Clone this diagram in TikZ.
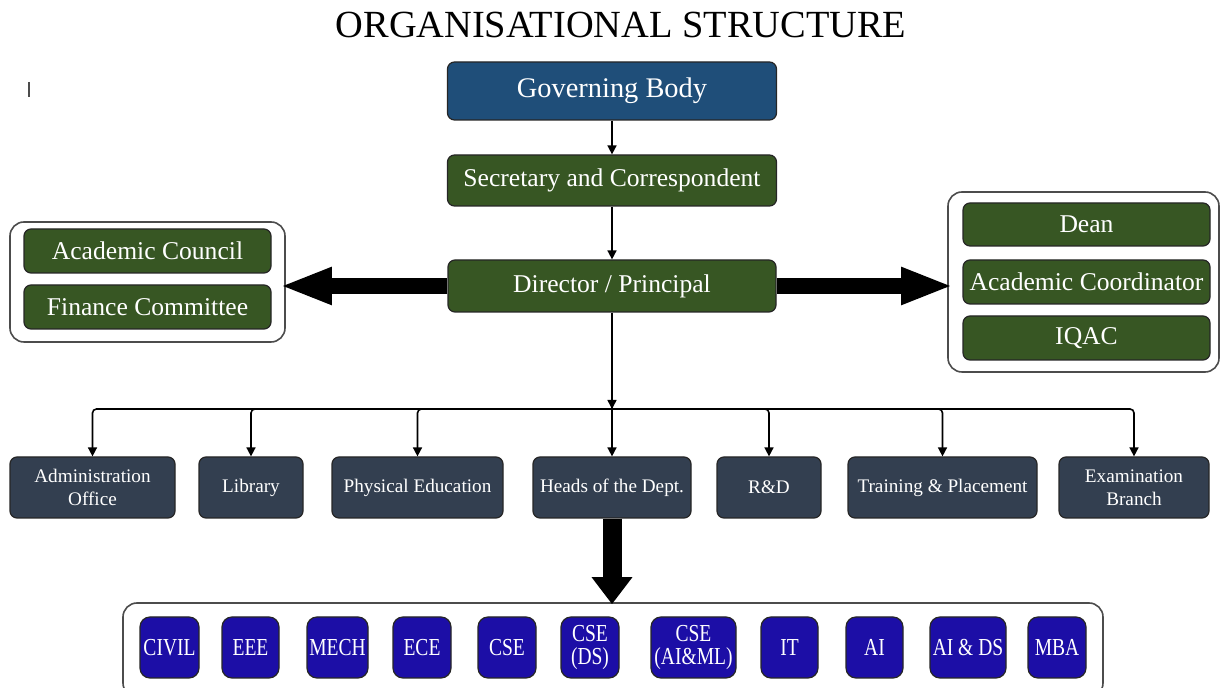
\documentclass[tikz,border=0pt]{standalone}
\usepackage{fontspec}
\setmainfont{Liberation Serif}
\newfontfamily\condensed[FakeStretch=0.8]{Liberation Serif}
\usetikzlibrary{arrows.meta,calc}
\definecolor{govblue}{HTML}{1F4E79}
\definecolor{dgreen}{HTML}{375623}
\definecolor{slate}{HTML}{333F50}
\definecolor{deptblue}{HTML}{1C0EA6}
\begin{document}
\begin{tikzpicture}[x=0.5pt,y=-0.5pt,
  sz/.style 2 args={minimum width={#1*0.5pt},minimum height={#2*0.5pt}},
  box/.style={draw=black!85, line width=0.6pt, rounded corners=3.5pt, text=white, align=center, inner sep=0pt},
  govbox/.style={box, fill=govblue, font=\fontsize{14.2}{16}\selectfont},
  greenbox/.style={box, fill=dgreen, font=\fontsize{12.8}{15}\selectfont},
  slatebox/.style={box, fill=slate, font=\fontsize{9.6}{11.5}\selectfont},
  deptbox/.style={box, fill=deptblue, rounded corners=5pt, font=\condensed\fontsize{12.2}{11.8}\selectfont},
  container/.style={draw=black!70, line width=0.8pt, fill=white, rounded corners=7pt, inner sep=0pt},
  arr/.style={line width=0.8pt, -{Triangle[width=4.5pt,length=4.5pt]}},
  fat/.style={line width=8pt, shorten >=-3pt, -{Triangle[width=17pt,length=26pt]}},
  fatdown/.style={line width=9.5pt, shorten >=-1pt, -{Triangle[width=19.5pt,length=13.5pt]}}
]
\useasboundingbox (0,0) rectangle (1220,688);

% title and stray mark
\node[font=\fontsize{19.2}{22}\selectfont] (title) at (621,25) {ORGANISATIONAL STRUCTURE};
\draw[black!70, line width=0.6pt] (29,82) -- (29,97);

% top chain
\node[govbox, sz={329}{58}] (gov) at (612,91) {Governing Body};
\node[greenbox, sz={329}{51}] (sec) at (612,180.5) {Secretary and Correspondent};
\node[greenbox, sz={328}{52}] (dir) at (612,286) {Director / Principal};

% left group
\node[container, sz={275}{120}] (leftC) at (147.5,282) {};
\node[greenbox, sz={247}{44}] (ac) at (147.5,251) {Academic Council};
\node[greenbox, sz={247}{44}] (fc) at (147.5,307) {Finance Committee};

% right group
\node[container, sz={271}{180}] (rightC) at (1083.5,282) {};
\node[greenbox, sz={247}{43}] (dean) at (1086.5,224.5) {Dean};
\node[greenbox, sz={247}{44}] (acoord) at (1086.5,282) {Academic Coordinator};
\node[greenbox, sz={247}{44}] (iqac) at (1086.5,338) {IQAC};

% middle row
\node[slatebox, sz={165}{61}] (adm) at (92.5,487.5) {Administration\\Office};
\node[slatebox, sz={104}{61}] (lib) at (251,487.5) {Library};
\node[slatebox, sz={171}{61}] (pe) at (417.5,487.5) {Physical Education};
\node[slatebox, sz={158}{61}] (hod) at (612,487.5) {Heads of the Dept.};
\node[slatebox, sz={104}{61}] (rd) at (769,487.5) {R\&D};
\node[slatebox, sz={189}{61}] (tp) at (942.5,487.5) {Training \& Placement};
\node[slatebox, sz={150}{61}] (exam) at (1134,487.5) {Examination\\Branch};

% bottom container and departments
\node[container, sz={980}{94}] (botC) at (613,650) {};
\node[deptbox, sz={59}{61}] (civil) at (169.5,647.5) {CIVIL};
\node[deptbox, sz={57}{61}] (eee) at (250.5,647.5) {EEE};
\node[deptbox, sz={61}{61}] (mech) at (337.5,647.5) {MECH};
\node[deptbox, sz={58}{61}] (ece) at (422,647.5) {ECE};
\node[deptbox, sz={58}{61}] (cse) at (507,647.5) {CSE};
\node[deptbox, sz={58}{61}] (csed) at (590,647.5) {CSE\\(DS)};
\node[deptbox, sz={85}{61}] (cseai) at (693.5,647.5) {CSE\\(AI\&ML)};
\node[deptbox, sz={57}{61}] (it) at (789.5,647.5) {IT};
\node[deptbox, sz={57}{61}] (ai) at (874.5,647.5) {AI};
\node[deptbox, sz={76}{61}] (aids) at (968,647.5) {AI \& DS};
\node[deptbox, sz={58}{61}] (mba) at (1057,647.5) {MBA};

% connectors
\draw[arr] (gov.south) -- (sec.north);
\draw[arr] (sec.south) -- (dir.north);
\coordinate (bus) at (612,409);
\draw[arr] (dir.south) -- (bus);
\foreach \n in {adm,lib,pe,hod,rd,tp,exam}{
  \draw[arr, rounded corners=2pt] (bus) -| (\n.north);
}
\draw[fat] (dir.west) -- (dir.west -| leftC.east);
\draw[fat] (dir.east) -- (dir.east -| rightC.west);
\draw[fatdown] (hod.south) -- (hod.south |- botC.north);
\end{tikzpicture}
\end{document}
